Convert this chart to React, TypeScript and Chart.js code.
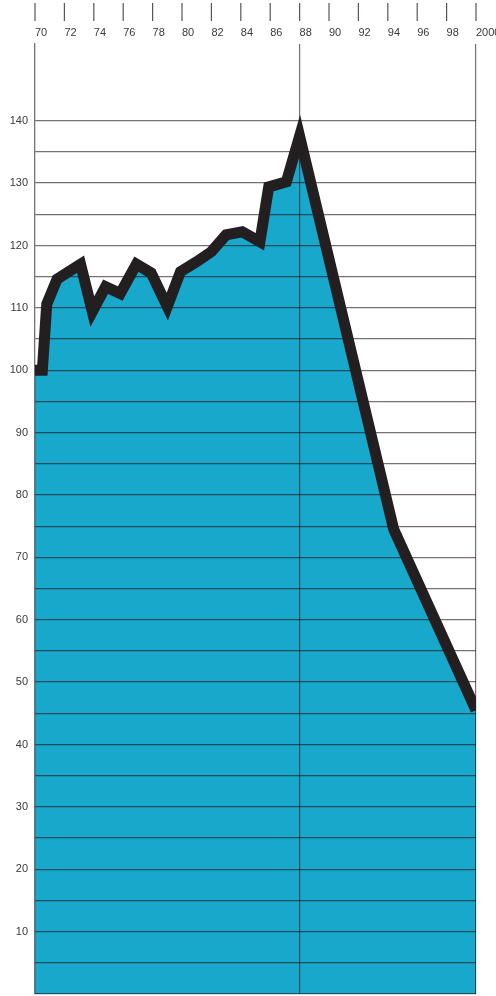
import { useEffect, useRef } from 'react';
import { Chart, registerables } from 'chart.js';

Chart.register(...registerables);

// ---- data ----
const YEARS = [
  1970, 1970.5, 1970.8, 1971.5, 1972.3, 1973.1, 1973.9, 1974.8, 1975.8, 1976.9,
  1977.9, 1979.0, 1979.9, 1981.0, 1982.0, 1983.0, 1984.1, 1985.3, 1985.9, 1987.1,
  1988.0, 1994.4, 2000,
];
const VALUES = [
  100, 100, 110.6, 114.6, 115.8, 117, 109.4, 113.4, 112.3, 117,
  115.6, 110.2, 115.8, 117.4, 119, 121.7, 122.2, 120.6, 129.4, 130.2,
  137.5, 74.5, 45.5,
];
const X_TICKS = [1970, 1972, 1974, 1976, 1978, 1980, 1982, 1984, 1986, 1988, 1990, 1992, 1994, 1996, 1998, 2000];
const X_TICK_LABELS = ['70', '72', '74', '76', '78', '80', '82', '84', '86', '88', '90', '92', '94', '96', '98', '2000'];
const Y_LABELS = [10, 20, 30, 40, 50, 60, 70, 80, 90, 100, 110, 120, 130, 140];
const MARKED_YEARS = [1988, 2000];
const Y_GRID_TOP = 140;
const Y_MAX = 152.3;

const FONT = 'Liberation Sans, Arial, Helvetica, sans-serif';
const GRID = 'rgba(35,15,22,0.6)';
const FILL = '#17a8cc';
const LINE = '#231f20';

const topTickMarks = {
  id: 'topTickMarks',
  afterDraw(chart: any) {
    const sc = chart.scales.x;
    const ctx = chart.ctx;
    ctx.save();
    ctx.strokeStyle = '#5a5456';
    ctx.lineWidth = 1.2;
    X_TICKS.forEach((v) => {
      const px = sc.getPixelForValue(v);
      ctx.beginPath();
      ctx.moveTo(px, 3);
      ctx.lineTo(px, 21);
      ctx.stroke();
    });
    ctx.restore();
  },
};

export default function App() {
  const ref = useRef<HTMLCanvasElement | null>(null);

  useEffect(() => {
    if (!ref.current) return;
    const points = YEARS.map((x, i) => ({ x, y: VALUES[i] }));
    const chart = new Chart(ref.current, {
      type: 'line',
      data: {
        datasets: [
          {
            data: points,
            borderColor: LINE,
            borderWidth: 11,
            borderJoinStyle: 'miter',
            borderCapStyle: 'butt',
            backgroundColor: FILL,
            fill: 'origin',
            pointRadius: 0,
            tension: 0,
          },
        ],
      },
      options: {
        animation: false,
        responsive: true,
        maintainAspectRatio: false,
        layout: { padding: { left: 0, right: 20, top: 0, bottom: 2 } },
        plugins: {
          legend: { display: false },
          tooltip: { enabled: false },
          filler: { drawTime: 'beforeDraw' },
        },
        scales: {
          x: {
            type: 'linear',
            position: 'top',
            min: 1970,
            max: 2000,
            afterBuildTicks: (s: any) => {
              s.ticks = X_TICKS.map((v) => ({ value: v }));
            },
            afterFit: (s: any) => {
              s.height = 44;
              s.paddingLeft = 0;
              s.paddingRight = 0;
            },
            ticks: {
              align: 'start',
              autoSkip: false,
              maxRotation: 0,
              padding: 4,
              color: '#3a3a3a',
              font: { family: FONT, size: 11 },
              callback: (v: any) => {
                const i = X_TICKS.indexOf(Number(v));
                return i >= 0 ? X_TICK_LABELS[i] : '';
              },
            },
            grid: {
              drawTicks: false,
              lineWidth: 1.2,
              color: (c: any) =>
                c.tick && MARKED_YEARS.includes(c.tick.value) ? GRID : 'transparent',
            },
            border: { display: false },
          },
          y: {
            type: 'linear',
            min: 0,
            max: Y_MAX,
            afterFit: (s: any) => {
              s.width = 35;
              s.paddingTop = 0;
              s.paddingBottom = 0;
            },
            ticks: {
              stepSize: 5,
              padding: 7,
              color: '#3a3a3a',
              font: { family: FONT, size: 11 },
              callback: (v: any) => (Y_LABELS.includes(Number(v)) ? String(v) : ''),
            },
            grid: {
              drawTicks: false,
              lineWidth: 1.3,
              color: (c: any) =>
                c.tick && c.tick.value <= Y_GRID_TOP ? GRID : 'transparent',
            },
            border: { display: true, color: GRID, width: 1.3 },
          },
        },
      } as any,
      plugins: [topTickMarks],
    });
    return () => chart.destroy();
  }, []);

  return (
    <div
      style={{
        position: 'absolute',
        left: 0,
        top: 0,
        width: 496,
        height: 996,
        background: '#ffffff',
        overflow: 'hidden',
      }}
    >
      <canvas ref={ref} />
    </div>
  );
}
